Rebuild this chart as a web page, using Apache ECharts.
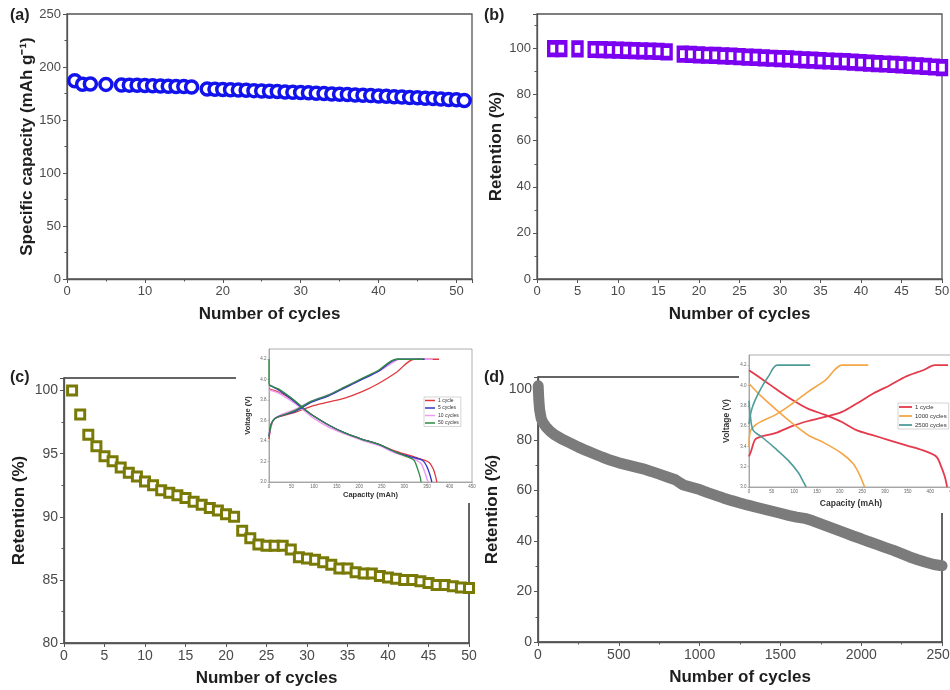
<!DOCTYPE html>
<html>
<head>
<meta charset="utf-8">
<script src="https://cdn.jsdelivr.net/npm/echarts@6/dist/echarts.min.js"></script>
<style>
  html, body { margin: 0; padding: 0; background: #ffffff; }
  #chart { width: 950px; height: 690px; }
</style>
</head>
<body>
<div id="chart"></div>
<script>
// ---- (a) specific capacity vs cycle ----
const cyclesA = [1, 2, 3, 5, 7, 8, 9, 10, 11, 12, 13, 14, 15, 16,
  18, 19, 20, 21, 22, 23, 24, 25, 26, 27, 28, 29, 30, 31, 32, 33, 34, 35,
  36, 37, 38, 39, 40, 41, 42, 43, 44, 45, 46, 47, 48, 49, 50, 51];
const capacityA = [187, 183.8, 184, 183.6, 183, 182.9, 182.7, 182.5, 182.3, 182.1, 181.9, 181.7, 181.5, 181.2,
  179.3, 179.0, 178.8, 178.5, 178.2, 178.0, 177.7, 177.4, 177.1, 176.8, 176.5, 176.2, 175.9, 175.6,
  175.2, 174.9, 174.6, 174.3, 174.0, 173.6, 173.3, 173.0, 172.6, 172.3, 172.0, 171.6, 171.3, 171.0,
  170.6, 170.2, 169.8, 169.4, 169.0, 168.3];

// ---- (b) retention vs cycle ----
const cyclesB = [2, 3, 5, 7, 8, 9, 10, 11, 12, 13, 14, 15, 16,
  18, 19, 20, 21, 22, 23, 24, 25, 26, 27, 28, 29, 30, 31, 32, 33, 34, 35,
  36, 37, 38, 39, 40, 41, 42, 43, 44, 45, 46, 47, 48, 49, 50];
const retentionB = [100, 100, 99.9, 99.6, 99.5, 99.4, 99.3, 99.2, 99.1, 99.0, 98.9, 98.8, 98.6,
  97.6, 97.5, 97.3, 97.1, 97.0, 96.8, 96.7, 96.5, 96.3, 96.2, 96.0, 95.8, 95.6, 95.5, 95.3,
  95.1, 95.0, 94.8, 94.6, 94.4, 94.3, 94.1, 93.9, 93.7, 93.5, 93.3, 93.1, 92.9, 92.7, 92.5,
  92.3, 92.0, 91.7];

// ---- (c) retention, 50 cycles ----
const cyclesC = [1, 2, 3, 4, 5, 6, 7, 8, 9, 10, 11, 12, 13, 14, 15, 16, 17, 18, 19, 20,
  21, 22, 23, 24, 25, 26, 27, 28, 29, 30, 31, 32, 33, 34, 35, 36, 37, 38, 39, 40,
  41, 42, 43, 44, 45, 46, 47, 48, 49, 50];
const retentionC = [100, 98.1, 96.5, 95.6, 94.8, 94.4, 93.9, 93.5, 93.2, 92.8,
  92.5, 92.1, 91.9, 91.7, 91.5, 91.2, 90.95, 90.7, 90.5, 90.2,
  90.0, 88.9, 88.3, 87.8, 87.7, 87.7, 87.7, 87.4, 86.8, 86.7,
  86.6, 86.4, 86.2, 85.9, 85.9, 85.6, 85.5, 85.5, 85.3, 85.2,
  85.1, 85.0, 85.0, 84.9, 84.75, 84.6, 84.6, 84.5, 84.4, 84.35];

// ---- (d) long-term retention ----
const cyclesD = [1, 5, 10, 20, 30, 50, 75, 100, 150, 200, 250, 300, 350, 400, 450, 500,
  550, 600, 650, 700, 750, 800, 850, 880, 900, 950, 1000, 1050, 1100, 1150, 1200,
  1250, 1300, 1350, 1400, 1450, 1500, 1550, 1600, 1650, 1700, 1750, 1800, 1850,
  1900, 1950, 2000, 2050, 2100, 2150, 2200, 2250, 2300, 2350, 2400, 2450, 2500];
const retentionD = [101.5, 96, 92, 88.5, 87, 85.2, 83.5, 82.2, 80.3, 78.8, 77.2, 75.8, 74.5, 73.2, 72, 71,
  70.2, 69.4, 68.6, 67.6, 66.5, 65.4, 64.3, 63, 62.2, 61.3, 60.4, 59.2, 58.1, 57, 56,
  55.1, 54.2, 53.4, 52.6, 51.8, 51, 50.2, 49.5, 49, 48, 46.8, 45.6, 44.4,
  43.2, 42, 40.9, 39.7, 38.6, 37.4, 36.3, 35, 33.7, 32.6, 31.6, 30.7, 30.2];

// ---- inset (c): voltage profiles [capacity mAh, voltage V] ----
const chargeC1 = [[0, 3.42], [5, 3.55], [13, 3.62], [28, 3.645], [58, 3.68], [94, 3.74], [131, 3.78], [168, 3.82], [205, 3.88], [242, 3.96], [282, 4.07], [322, 4.2], [377, 4.2]];
const dischargeC1 = [[0, 3.91], [21, 3.88], [50, 3.81], [72, 3.73], [94, 3.66], [131, 3.56], [168, 3.48], [205, 3.42], [242, 3.37], [282, 3.30], [319, 3.25], [340, 3.22], [355, 3.19], [364, 3.13], [369, 3.06], [372, 3.0]];
const chargeC5 = [[0, 3.45], [5, 3.57], [13, 3.62], [28, 3.65], [58, 3.69], [94, 3.78], [131, 3.84], [168, 3.92], [205, 4.0], [242, 4.08], [285, 4.2], [345, 4.2]];
const dischargeC5 = [[0, 3.95], [21, 3.9], [50, 3.81], [72, 3.73], [94, 3.66], [131, 3.56], [168, 3.48], [205, 3.42], [242, 3.37], [282, 3.29], [319, 3.24], [341, 3.21], [350, 3.15], [356, 3.08], [361, 3.0]];
const chargeC10 = [[0, 3.45], [5, 3.56], [13, 3.62], [28, 3.66], [58, 3.71], [94, 3.79], [131, 3.85], [168, 3.92], [205, 4.0], [242, 4.08], [282, 4.19], [290, 4.2], [363, 4.2]];
const dischargeC10 = [[0, 3.9], [21, 3.87], [50, 3.79], [72, 3.72], [94, 3.64], [131, 3.54], [168, 3.47], [205, 3.41], [242, 3.36], [282, 3.28], [319, 3.23], [337, 3.18], [345, 3.10], [351, 3.02], [353, 3.0]];
const chargeC50 = [[0, 3.44], [5, 3.57], [13, 3.62], [28, 3.65], [58, 3.70], [94, 3.79], [131, 3.85], [168, 3.93], [205, 4.01], [242, 4.09], [282, 4.2], [341, 4.2]];
const dischargeC50 = [[0, 4.2], [0, 3.96], [21, 3.91], [50, 3.82], [72, 3.74], [94, 3.66], [131, 3.56], [168, 3.48], [205, 3.42], [242, 3.37], [282, 3.29], [310, 3.24], [322, 3.21], [330, 3.12], [335, 3.05], [337, 3.0]];

// ---- inset (d): voltage profiles [capacity mAh, voltage V] ----
const chargeD1 = [[0, 3.30], [5, 3.36], [14, 3.47], [29, 3.50], [58, 3.53], [95, 3.60], [131, 3.65], [168, 3.69], [205, 3.74], [237, 3.82], [274, 3.92], [310, 4.0], [347, 4.09], [384, 4.15], [410, 4.2], [439, 4.2]];
const dischargeD1 = [[0, 4.15], [36, 4.04], [58, 3.97], [95, 3.86], [131, 3.77], [168, 3.71], [205, 3.64], [237, 3.56], [273, 3.51], [310, 3.46], [347, 3.41], [384, 3.36], [413, 3.30], [424, 3.20], [432, 3.10], [437, 3.0]];
const chargeD1000 = [[0, 3.40], [3, 3.55], [14, 3.61], [29, 3.65], [58, 3.71], [95, 3.82], [131, 3.94], [168, 4.05], [205, 4.2], [263, 4.2]];
const dischargeD1000 = [[0, 4.02], [21, 3.92], [58, 3.77], [95, 3.63], [131, 3.51], [168, 3.43], [205, 3.33], [230, 3.23], [244, 3.12], [255, 3.0]];
const chargeD2500 = [[0, 3.62], [5, 3.75], [14, 3.86], [29, 3.99], [43, 4.09], [62, 4.2], [135, 4.2]];
const dischargeD2500 = [[0, 3.85], [3, 3.7], [9, 3.56], [29, 3.49], [58, 3.38], [87, 3.26], [109, 3.14], [120, 3.05], [126, 3.0]];

const FONT = '"Liberation Sans", Arial, sans-serif';
const AXIS_COLOR = '#555';
const LABEL_COLOR = '#4a4a4a';
const TITLE_COLOR = '#1e1e1e';

const zip = (xs, ys) => xs.map((x, i) => [x, ys[i]]);
const plain = v => String(v);

function mainAxis(opts) {
  return {
    type: 'value',
    gridIndex: opts.grid,
    min: opts.min, max: opts.max, interval: opts.interval,
    name: opts.name, nameLocation: 'middle', nameGap: opts.nameGap,
    nameTextStyle: { fontFamily: FONT, fontSize: 17, fontWeight: 'bold', color: TITLE_COLOR },
    axisLine: { show: true, onZero: false, lineStyle: { color: AXIS_COLOR, width: 1.3 } },
    axisTick: { show: true, length: 4, lineStyle: { color: AXIS_COLOR, width: 1 } },
    minorTick: { show: opts.minor > 0, splitNumber: opts.minor || 5, length: 2.5, lineStyle: { color: AXIS_COLOR, width: 1 } },
    axisLabel: { fontFamily: FONT, fontSize: opts.labelSize, color: LABEL_COLOR, margin: 6, showMaxLabel: opts.showMax, formatter: plain },
    splitLine: { show: false },
    z: 0
  };
}

function insetAxis(opts) {
  return {
    type: 'value',
    gridIndex: opts.grid,
    min: opts.min, max: opts.max, interval: opts.interval,
    name: opts.name, nameLocation: 'middle', nameGap: opts.nameGap,
    nameTextStyle: { fontFamily: FONT, fontSize: opts.nameSize, fontWeight: 'bold', color: '#333' },
    axisLine: { show: true, onZero: false, lineStyle: { color: '#999', width: 0.8 } },
    axisTick: { show: true, length: 1.5, lineStyle: { color: '#999', width: 0.6 } },
    axisLabel: { fontFamily: FONT, fontSize: 4.5, color: '#666', margin: 2.5, showMaxLabel: opts.showMax,
      formatter: opts.fmt || plain },
    splitLine: { show: false },
    z: 3
  };
}

function profile(name, data, color, xi, yi, width) {
  return {
    type: 'line', name: name, data: data, xAxisIndex: xi, yAxisIndex: yi,
    symbol: 'none', smooth: 0.3, z: 4,
    lineStyle: { color: color, width: width },
    itemStyle: { color: color }
  };
}

function panelGrid(left, top, width, height, border, bw, z) {
  return { left, top, width, height, show: true, borderColor: border, borderWidth: bw, z,
    outerBoundsMode: 'none', containLabel: false };
}

const RED_C = '#e0383e', BLUE_C = '#3434c8', PINK_C = '#ee9cf0', GREEN_C = '#2f8a44';
const RED_D = '#e43a4c', ORANGE_D = '#f4a646', TEAL_D = '#4e9c98';

const option = {
  backgroundColor: '#ffffff',
  animation: false,
  title: [
    { text: '(a)', left: 10, top: 8, padding: 0, textStyle: { fontFamily: FONT, fontSize: 16, fontWeight: 'bold', color: '#222' } },
    { text: '(b)', left: 484, top: 8, padding: 0, textStyle: { fontFamily: FONT, fontSize: 16, fontWeight: 'bold', color: '#222' } },
    { text: '(c)', left: 10, top: 370, padding: 0, textStyle: { fontFamily: FONT, fontSize: 16, fontWeight: 'bold', color: '#222' } },
    { text: '(d)', left: 484, top: 370, padding: 0, textStyle: { fontFamily: FONT, fontSize: 16, fontWeight: 'bold', color: '#222' } }
  ],
  grid: [
    panelGrid(67, 14, 405, 265, AXIS_COLOR, 1.3, 0),
    panelGrid(537, 14, 405, 265, AXIS_COLOR, 1.3, 0),
    panelGrid(64, 378, 405, 265, '#333', 1.5, 0),
    panelGrid(538, 377, 404, 265, '#333', 1.5, 0),
    panelGrid(269, 349, 203, 133, '#999', 0.8, 3),
    panelGrid(749, 355, 204, 132, '#999', 0.8, 3)
  ],
  xAxis: [
    mainAxis({ grid: 0, min: 0, max: 52, interval: 10, minor: 2, name: 'Number of cycles', nameGap: 27, labelSize: 13, showMax: false }),
    mainAxis({ grid: 1, min: 0, max: 50, interval: 5, minor: 0, name: 'Number of cycles', nameGap: 27, labelSize: 13, showMax: true }),
    mainAxis({ grid: 2, min: 0, max: 50, interval: 5, minor: 0, name: 'Number of cycles', nameGap: 27, labelSize: 14, showMax: true }),
    mainAxis({ grid: 3, min: 0, max: 2500, interval: 500, minor: 2, name: 'Number of cycles', nameGap: 27, labelSize: 14, showMax: true }),
    insetAxis({ grid: 4, min: 0, max: 450, interval: 50, name: 'Capacity (mAh)', nameGap: 9, nameSize: 7.5, showMax: true }),
    insetAxis({ grid: 5, min: 0, max: 450, interval: 50, name: 'Capacity (mAh)', nameGap: 12, nameSize: 8.5, showMax: true })
  ],
  yAxis: [
    mainAxis({ grid: 0, min: 0, max: 250, interval: 50, minor: 2, name: 'Specific capacity (mAh g\u207B\u00B9)', nameGap: 30, labelSize: 13, showMax: true }),
    mainAxis({ grid: 1, min: 0, max: 115, interval: 20, minor: 2, name: 'Retention (%)', nameGap: 32, labelSize: 13, showMax: false }),
    mainAxis({ grid: 2, min: 80, max: 101, interval: 5, minor: 2, name: 'Retention (%)', nameGap: 36, labelSize: 14, showMax: false }),
    mainAxis({ grid: 3, min: 0, max: 105, interval: 20, minor: 2, name: 'Retention (%)', nameGap: 37, labelSize: 14, showMax: false }),
    insetAxis({ grid: 4, min: 3.0, max: 4.3, interval: 0.2, name: 'Voltage (V)', nameGap: 17, nameSize: 7.5, showMax: false, fmt: v => v.toFixed(1) }),
    insetAxis({ grid: 5, min: 3.0, max: 4.3, interval: 0.2, name: 'Voltage (V)', nameGap: 18, nameSize: 8.5, showMax: false, fmt: v => v.toFixed(1) })
  ],
  legend: [
    {
      left: 424, top: 397, orient: 'vertical', selectedMode: false,
      icon: 'rect', itemWidth: 10, itemHeight: 1.5, itemGap: 2.5,
      padding: [1, 2, 1, 1], borderColor: '#bbb', borderWidth: 0.6, backgroundColor: '#fff',
      textStyle: { fontFamily: FONT, fontSize: 5, color: '#333', padding: [0, 0, 0, -2] },
      data: [
        { name: '1 cycle', itemStyle: { color: RED_C } },
        { name: '5 cycles', itemStyle: { color: BLUE_C } },
        { name: '10 cycles', itemStyle: { color: PINK_C } },
        { name: '50 cycles', itemStyle: { color: GREEN_C } }
      ],
      z: 5
    },
    {
      left: 898, top: 403, orient: 'vertical', selectedMode: false,
      icon: 'rect', itemWidth: 13, itemHeight: 1.8, itemGap: 3,
      padding: [1, 2, 1, 1], borderColor: '#bbb', borderWidth: 0.6, backgroundColor: '#fff',
      textStyle: { fontFamily: FONT, fontSize: 6, color: '#333', padding: [0, 0, 0, -2] },
      data: [
        { name: '1 cycle', itemStyle: { color: RED_D } },
        { name: '1000 cycles', itemStyle: { color: ORANGE_D } },
        { name: '2500 cycles', itemStyle: { color: TEAL_D } }
      ],
      z: 5
    }
  ],
  graphic: [
    // white panels behind the two insets
    { type: 'rect', shape: { x: 236, y: 338, width: 244, height: 165 }, style: { fill: '#ffffff' }, z: 1, silent: true },
    { type: 'rect', shape: { x: 739, y: 345, width: 215, height: 168 }, style: { fill: '#ffffff' }, z: 1, silent: true }
  ],
  series: [
    {
      type: 'scatter', name: 'capacity', xAxisIndex: 0, yAxisIndex: 0, data: zip(cyclesA, capacityA),
      symbol: 'circle', symbolSize: 12, z: 2,
      itemStyle: { color: '#ffffff', borderColor: '#1212ec', borderWidth: 3.5, opacity: 1 }
    },
    {
      type: 'scatter', name: 'retention b', xAxisIndex: 1, yAxisIndex: 1, data: zip(cyclesB, retentionB),
      symbol: 'rect', symbolSize: [9, 12.5], z: 2,
      itemStyle: { color: '#ffffff', borderColor: '#7b00f0', borderWidth: 4, opacity: 1 }
    },
    {
      type: 'scatter', name: 'retention c', xAxisIndex: 2, yAxisIndex: 2, data: zip(cyclesC, retentionC),
      symbol: 'rect', symbolSize: 9, z: 2,
      itemStyle: { color: '#ffffff', borderColor: '#797905', borderWidth: 3, opacity: 1 }
    },
    {
      type: 'line', name: 'retention d', xAxisIndex: 3, yAxisIndex: 3, data: zip(cyclesD, retentionD),
      symbol: 'none', z: 2,
      lineStyle: { color: '#7b7b7b', width: 11, cap: 'round', join: 'round' }
    },
    profile('1 cycle', chargeC1, RED_C, 4, 4, 1.3),
    profile('1 cycle', dischargeC1, RED_C, 4, 4, 1.3),
    profile('10 cycles', chargeC10, PINK_C, 4, 4, 1.5),
    profile('10 cycles', dischargeC10, PINK_C, 4, 4, 1.5),
    profile('5 cycles', chargeC5, BLUE_C, 4, 4, 1.3),
    profile('5 cycles', dischargeC5, BLUE_C, 4, 4, 1.3),
    profile('50 cycles', chargeC50, GREEN_C, 4, 4, 1.3),
    profile('50 cycles', dischargeC50, GREEN_C, 4, 4, 1.3),
    profile('1 cycle', chargeD1, RED_D, 5, 5, 1.8),
    profile('1 cycle', dischargeD1, RED_D, 5, 5, 1.8),
    profile('1000 cycles', chargeD1000, ORANGE_D, 5, 5, 1.6),
    profile('1000 cycles', dischargeD1000, ORANGE_D, 5, 5, 1.6),
    profile('2500 cycles', chargeD2500, TEAL_D, 5, 5, 1.6),
    profile('2500 cycles', dischargeD2500, TEAL_D, 5, 5, 1.6)
  ]
};

const chart = echarts.init(document.getElementById('chart'), null, { renderer: 'canvas' });
chart.setOption(option);
</script>
</body>
</html>
